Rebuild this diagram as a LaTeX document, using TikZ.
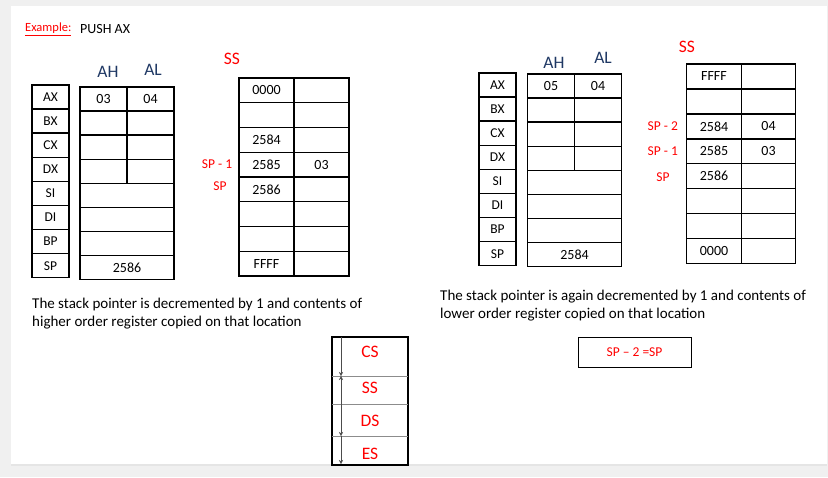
\documentclass[tikz,border=0pt]{standalone}
\usepackage{fontspec}
\setmainfont{Carlito}
\usetikzlibrary{positioning, arrows.meta, shadows}
\definecolor{pgred}{RGB}{255,0,0}
\definecolor{hdblue}{RGB}{31,56,100}
\definecolor{pagegrey}{RGB}{240,240,240}

\begin{document}
\begin{tikzpicture}[x=1pt, y=-1pt,
    reg/.style={draw, line width=1.4pt, minimum width=37pt, minimum height=24.1pt, inner sep=0pt, font=\fontsize{13.5}{15}\selectfont},
    half/.style={draw, line width=1.4pt, minimum width=47pt, minimum height=24.1pt, inner sep=0pt, font=\fontsize{14}{16}\selectfont},
    full/.style={half, minimum width=94pt},
    mem/.style={draw, line width=1.4pt, minimum width=55pt, minimum height=24.8pt, inner sep=0pt, font=\fontsize{14}{16}\selectfont},
    redlbl/.style={text=pgred, inner sep=1pt, font=\fontsize{13.5}{15}\selectfont},
    hdr/.style={text=hdblue, inner sep=0pt, font=\fontsize{17.5}{20}\selectfont},
    seglbl/.style={text=pgred, inner sep=0pt, font=\fontsize{17.5}{20}\selectfont},
    note/.style={align=left, anchor=west, inner sep=0pt, font=\fontsize{15}{18}\selectfont},
    segarr/.style={thin, black!70, {Stealth[length=4pt, width=4pt]}-{Stealth[length=4pt, width=4pt]}}]
  % page
  \useasboundingbox (0,0) rectangle (828,477);
  \fill[pagegrey] (0,0) rectangle (828,477);
  \fill[black!10] (11,464) rectangle (827,466);
  \fill[white] (11,6) rectangle (827,464);

  % heading
  \node[inner sep=0pt, anchor=west, text=pgred, font=\fontsize{12.5}{14}\selectfont] (ex) at (25,29) {\underline{Example:}};
  \node[inner sep=0pt, anchor=west, font=\fontsize{14}{16}\selectfont] (push) at (80,29) {PUSH AX};

  % registers, before
  \foreach \r [count=\i from 0] in {AX,BX,CX,DX,SI,DI,BP,SP}
    \node[reg] (ra\r) at (50.5, 97+24.1*\i) {\r};
  \foreach \h/\l [count=\i from 0] in {03/04,{}/{},{}/{},{}/{}} {
    \node[half] (vah\i) at (103.5, 99+24.1*\i) {\h};
    \node[half] (val\i) at (150.5, 99+24.1*\i) {\l};
  }
  \foreach \v [count=\i from 4] in {{},{},{},2586}
    \node[full] (va\i) at (127, 99+24.1*\i) {\v};
  \node[hdr] (aha) at (108,72) {AH};
  \node[hdr] (ala) at (153,70) {AL};

  % stack segment, before
  \node[hdr, text=pgred] (ssa) at (232,59) {SS};
  \foreach \a/\b [count=\i from 1] in {0000/{},{}/{},2584/{},2585/03,2586/{},{}/{},{}/{},FFFF/{}} {
    \node[mem] (sa\i) at (266.5, 65.6+24.75*\i) {\a};
    \node[mem] (sb\i) at (321.5, 65.6+24.75*\i) {\b};
  }
  \node[redlbl, left=5pt of sa4] (spm1a) {SP - 1};
  \node[redlbl] (spa) at (220,186) {SP};

  \node[note] (noteA) at (32,314) {The stack pointer is decremented by 1 and contents of\\higher order register copied on that location};

  % segments
  \node[draw, line width=1.5pt, minimum width=76pt, minimum height=128pt, inner sep=0pt] (seg) at (370,401) {};
  \foreach \y in {376,404,436}
    \draw[black!45] (332,\y) -- (408,\y);
  \coordinate (g0) at (341,337);
  \coordinate (g1) at (341,376);
  \coordinate (g2) at (341,436);
  \coordinate (g3) at (341,464);
  \draw[segarr, {-Stealth[length=4pt, width=4pt]}] (g0) -- (g1);
  \draw[segarr] (g1) -- (g2);
  \draw[segarr, {-Stealth[length=4pt, width=4pt]}] (g2) -- (g3);
  \node[seglbl] (cs) at (370,352) {CS};
  \node[seglbl] (ss) at (370,388) {SS};
  \node[seglbl] (ds) at (370,421) {DS};
  \node[seglbl] (es) at (370,454) {ES};

  % registers, after
  \foreach \r [count=\i from 0] in {AX,BX,CX,DX,SI,DI,BP,SP}
    \node[reg] (rb\r) at (497.5, 85+24.1*\i) {\r};
  \foreach \h/\l [count=\i from 0] in {05/04,{}/{},{}/{},{}/{}} {
    \node[half] (vbh\i) at (551, 86+24.1*\i) {\h};
    \node[half] (vbl\i) at (598, 86+24.1*\i) {\l};
  }
  \foreach \v [count=\i from 4] in {{},{},{},2584}
    \node[full] (vb\i) at (574.5, 86+24.1*\i) {\v};
  \node[hdr] (ahb) at (554,63) {AH};
  \node[hdr] (alb) at (603,58) {AL};

  % stack segment, after
  \node[hdr, text=pgred] (ssb) at (687,47) {SS};
  \foreach \a/\b [count=\i from 1] in {FFFF/{},{}/{},2584/04,2585/03,2586/{},{}/{},{}/{},0000/{}} {
    \node[mem, minimum width=54.5pt] (sc\i) at (714, 51.6+24.9*\i) {\a};
    \node[mem, minimum width=54.5pt] (sd\i) at (768.5, 51.6+24.9*\i) {\b};
  }
  \node[redlbl, left=7pt of sc3] (spm2b) {SP - 2};
  \node[redlbl, left=7pt of sc4] (spm1b) {SP - 1};
  \node[redlbl] (spb) at (663,177) {SP};

  \node[note] (noteB) at (440,305.5) {The stack pointer is again decremented by 1 and contents of\\lower order register copied on that location};

  \node[draw, fill=white, minimum width=113pt, minimum height=30pt, inner sep=0pt, text=pgred,
    font=\fontsize{13.5}{15}\selectfont,
    drop shadow={shadow xshift=1.2pt, shadow yshift=-1.2pt, fill=black!45, opacity=1}] (upd) at (634.5,352) {SP -- 2 =SP};
\end{tikzpicture}
\end{document}
